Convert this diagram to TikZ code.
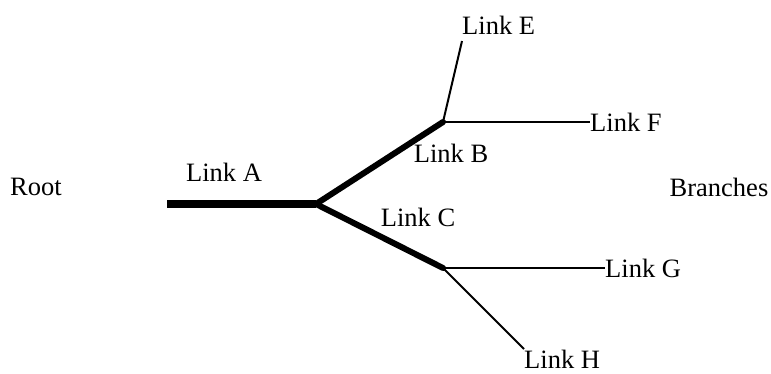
\documentclass[tikz,border=0pt]{standalone}
\usepackage{fontspec}
\setmainfont{Liberation Serif}
\begin{document}
\begin{tikzpicture}[x=1pt,y=-1pt,
  lbl/.style={inner sep=0pt,font=\fontsize{26.5}{30}\selectfont},
  thick link/.style={line width=7.5pt},
  mid link/.style={line width=6pt,line cap=round},
  thin link/.style={line width=2pt}]
\useasboundingbox (0,0) rectangle (771,373);
\coordinate (a0) at (167,204);
\coordinate (j) at (316,204);
\coordinate (b) at (443,122);
\coordinate (c) at (443,268);
\coordinate (eend) at (462,41);
\coordinate (hend) at (524,349);
\node[lbl,anchor=south west] (e) at (462,35) {Link E};
\node[lbl,anchor=west] (f) at (590,122) {Link F};
\node[lbl,anchor=west] (g) at (605,268) {Link G};
\node[lbl,anchor=north west] (h) at (524,350) {Link H};
\node[lbl] (root) at (36,187) {Root};
\node[lbl] (branches) at (719,187) {Branches};
\node[lbl] (la) at (224,172) {Link A};
\node[lbl] (lb) at (451,153) {Link B};
\node[lbl] (lc) at (418,217) {Link C};
\draw[thick link] (a0) -- (j);
\draw[mid link] (j) -- (b);
\draw[mid link] (j) -- (c);
\draw[thin link] (b) -- (eend);
\draw[thin link] (b) -- (f.west);
\draw[thin link] (c) -- (g.west);
\draw[thin link] (c) -- (hend);
\end{tikzpicture}
\end{document}
